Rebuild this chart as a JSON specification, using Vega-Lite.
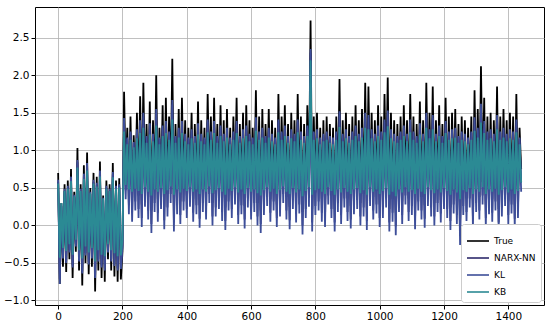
{
"$schema":"https://vega.github.io/schema/vega-lite/v6.json",
"width":509,"height":298,"autosize":"none",
"padding":{"left":35,"top":7,"right":6,"bottom":21},
"background":"white",
"data":{"values":[
{"x":0,"t":0.70,"n":0.58,"l":0.61,"b":0.56},
{"x":5,"t":-0.78,"n":-0.72,"l":-0.78,"b":-0.43},
{"x":10,"t":0.30,"n":0.26,"l":0.29,"b":0.30},
{"x":15,"t":-0.55,"n":-0.41,"l":-0.44,"b":-0.30},
{"x":20,"t":0.55,"n":0.46,"l":0.49,"b":0.46},
{"x":25,"t":-0.62,"n":-0.47,"l":-0.50,"b":-0.34},
{"x":30,"t":0.60,"n":0.50,"l":0.53,"b":0.49},
{"x":35,"t":-0.45,"n":-0.33,"l":-0.36,"b":-0.25},
{"x":40,"t":0.75,"n":0.62,"l":0.65,"b":0.59},
{"x":45,"t":-0.70,"n":-0.53,"l":-0.56,"b":-0.39},
{"x":50,"t":0.45,"n":0.38,"l":0.41,"b":0.39},
{"x":55,"t":-0.35,"n":-0.25,"l":-0.28,"b":-0.19},
{"x":60,"t":1.03,"n":0.84,"l":0.87,"b":0.77},
{"x":65,"t":-0.60,"n":-0.45,"l":-0.48,"b":-0.33},
{"x":70,"t":0.55,"n":0.46,"l":0.49,"b":0.46},
{"x":75,"t":-0.80,"n":-0.61,"l":-0.64,"b":-0.44},
{"x":80,"t":0.80,"n":0.66,"l":0.69,"b":0.62},
{"x":85,"t":-0.50,"n":-0.37,"l":-0.40,"b":-0.28},
{"x":90,"t":0.97,"n":0.80,"l":0.83,"b":0.73},
{"x":95,"t":-0.65,"n":-0.49,"l":-0.52,"b":-0.36},
{"x":100,"t":0.50,"n":0.42,"l":0.45,"b":0.43},
{"x":105,"t":-0.55,"n":-0.41,"l":-0.44,"b":-0.30},
{"x":110,"t":0.70,"n":0.58,"l":0.61,"b":0.56},
{"x":115,"t":-0.88,"n":-0.67,"l":-0.70,"b":-0.48},
{"x":120,"t":0.65,"n":0.54,"l":0.57,"b":0.52},
{"x":125,"t":-0.60,"n":-0.45,"l":-0.48,"b":-0.33},
{"x":130,"t":0.85,"n":0.70,"l":0.73,"b":0.65},
{"x":135,"t":-0.70,"n":-0.53,"l":-0.56,"b":-0.39},
{"x":140,"t":0.40,"n":0.34,"l":0.37,"b":0.36},
{"x":145,"t":-0.75,"n":-0.57,"l":-0.60,"b":-0.41},
{"x":150,"t":0.60,"n":0.50,"l":0.53,"b":0.49},
{"x":155,"t":-0.45,"n":-0.33,"l":-0.36,"b":-0.25},
{"x":160,"t":0.55,"n":0.46,"l":0.49,"b":0.46},
{"x":165,"t":-0.60,"n":-0.45,"l":-0.48,"b":-0.33},
{"x":170,"t":0.83,"n":0.68,"l":0.71,"b":0.64},
{"x":175,"t":-0.68,"n":-0.51,"l":-0.54,"b":-0.37},
{"x":180,"t":0.60,"n":0.50,"l":0.53,"b":0.49},
{"x":185,"t":-0.75,"n":-0.57,"l":-0.60,"b":-0.41},
{"x":190,"t":0.63,"n":0.52,"l":0.55,"b":0.51},
{"x":195,"t":-0.72,"n":-0.55,"l":-0.58,"b":-0.40},
{"x":200,"t":-0.35,"n":-0.27,"l":-0.30,"b":-0.19},
{"x":205,"t":1.78,"n":1.39,"l":1.43,"b":1.25},
{"x":210,"t":0.65,"n":0.47,"l":0.35,"b":0.54},
{"x":215,"t":1.30,"n":1.15,"l":1.17,"b":1.08},
{"x":220,"t":0.45,"n":0.27,"l":0.15,"b":0.48},
{"x":225,"t":1.45,"n":1.23,"l":1.25,"b":1.14},
{"x":230,"t":0.35,"n":0.17,"l":0.05,"b":0.45},
{"x":235,"t":1.20,"n":1.10,"l":1.11,"b":1.04},
{"x":240,"t":0.50,"n":0.32,"l":0.20,"b":0.49},
{"x":245,"t":1.50,"n":1.25,"l":1.28,"b":1.16},
{"x":250,"t":0.40,"n":0.22,"l":0.10,"b":0.46},
{"x":255,"t":1.72,"n":1.36,"l":1.40,"b":1.23},
{"x":260,"t":0.28,"n":0.10,"l":-0.02,"b":0.42},
{"x":265,"t":1.90,"n":1.45,"l":1.50,"b":1.30},
{"x":270,"t":0.55,"n":0.37,"l":0.25,"b":0.51},
{"x":275,"t":1.35,"n":1.18,"l":1.19,"b":1.10},
{"x":280,"t":0.38,"n":0.20,"l":0.08,"b":0.45},
{"x":285,"t":1.65,"n":1.33,"l":1.36,"b":1.21},
{"x":290,"t":0.20,"n":0.02,"l":-0.10,"b":0.40},
{"x":295,"t":1.40,"n":1.20,"l":1.22,"b":1.12},
{"x":300,"t":0.48,"n":0.30,"l":0.18,"b":0.48},
{"x":305,"t":2.00,"n":1.50,"l":1.55,"b":1.33},
{"x":310,"t":0.35,"n":0.17,"l":0.05,"b":0.45},
{"x":315,"t":1.30,"n":1.15,"l":1.17,"b":1.08},
{"x":320,"t":0.52,"n":0.34,"l":0.22,"b":0.50},
{"x":325,"t":1.60,"n":1.30,"l":1.33,"b":1.19},
{"x":330,"t":0.25,"n":0.07,"l":-0.05,"b":0.42},
{"x":335,"t":1.70,"n":1.35,"l":1.39,"b":1.23},
{"x":340,"t":0.42,"n":0.24,"l":0.12,"b":0.47},
{"x":345,"t":1.45,"n":1.23,"l":1.25,"b":1.14},
{"x":350,"t":0.60,"n":0.42,"l":0.30,"b":0.52},
{"x":355,"t":2.22,"n":1.61,"l":1.67,"b":1.41},
{"x":360,"t":0.22,"n":0.04,"l":-0.08,"b":0.41},
{"x":365,"t":1.35,"n":1.18,"l":1.19,"b":1.10},
{"x":370,"t":0.45,"n":0.27,"l":0.15,"b":0.48},
{"x":375,"t":1.55,"n":1.28,"l":1.30,"b":1.17},
{"x":380,"t":0.32,"n":0.14,"l":0.02,"b":0.44},
{"x":385,"t":1.70,"n":1.35,"l":1.39,"b":1.23},
{"x":390,"t":0.50,"n":0.32,"l":0.20,"b":0.49},
{"x":395,"t":1.40,"n":1.20,"l":1.22,"b":1.12},
{"x":400,"t":0.40,"n":0.22,"l":0.10,"b":0.46},
{"x":405,"t":1.30,"n":1.15,"l":1.17,"b":1.08},
{"x":410,"t":0.55,"n":0.37,"l":0.25,"b":0.51},
{"x":415,"t":1.50,"n":1.25,"l":1.28,"b":1.16},
{"x":420,"t":0.35,"n":0.17,"l":0.05,"b":0.45},
{"x":425,"t":1.35,"n":1.18,"l":1.19,"b":1.10},
{"x":430,"t":0.45,"n":0.27,"l":0.15,"b":0.48},
{"x":435,"t":1.65,"n":1.33,"l":1.36,"b":1.21},
{"x":440,"t":0.27,"n":0.09,"l":-0.03,"b":0.42},
{"x":445,"t":1.40,"n":1.20,"l":1.22,"b":1.12},
{"x":450,"t":0.48,"n":0.30,"l":0.18,"b":0.48},
{"x":455,"t":1.30,"n":1.15,"l":1.17,"b":1.08},
{"x":460,"t":0.38,"n":0.20,"l":0.08,"b":0.45},
{"x":465,"t":1.75,"n":1.38,"l":1.41,"b":1.24},
{"x":470,"t":0.60,"n":0.42,"l":0.30,"b":0.52},
{"x":475,"t":1.45,"n":1.23,"l":1.25,"b":1.14},
{"x":480,"t":0.30,"n":0.12,"l":0.00,"b":0.43},
{"x":485,"t":1.70,"n":1.35,"l":1.39,"b":1.23},
{"x":490,"t":0.42,"n":0.24,"l":0.12,"b":0.47},
{"x":495,"t":1.35,"n":1.18,"l":1.19,"b":1.10},
{"x":500,"t":0.52,"n":0.34,"l":0.22,"b":0.50},
{"x":505,"t":1.60,"n":1.30,"l":1.33,"b":1.19},
{"x":510,"t":0.36,"n":0.18,"l":0.06,"b":0.45},
{"x":515,"t":1.40,"n":1.20,"l":1.22,"b":1.12},
{"x":520,"t":0.24,"n":0.06,"l":-0.06,"b":0.41},
{"x":525,"t":1.55,"n":1.28,"l":1.30,"b":1.17},
{"x":530,"t":0.50,"n":0.32,"l":0.20,"b":0.49},
{"x":535,"t":1.30,"n":1.15,"l":1.17,"b":1.08},
{"x":540,"t":0.40,"n":0.22,"l":0.10,"b":0.46},
{"x":545,"t":1.45,"n":1.23,"l":1.25,"b":1.14},
{"x":550,"t":0.58,"n":0.40,"l":0.28,"b":0.51},
{"x":555,"t":1.70,"n":1.35,"l":1.39,"b":1.23},
{"x":560,"t":0.32,"n":0.14,"l":0.02,"b":0.44},
{"x":565,"t":1.35,"n":1.18,"l":1.19,"b":1.10},
{"x":570,"t":0.45,"n":0.27,"l":0.15,"b":0.48},
{"x":575,"t":1.50,"n":1.25,"l":1.28,"b":1.16},
{"x":580,"t":0.26,"n":0.08,"l":-0.04,"b":0.42},
{"x":585,"t":1.60,"n":1.30,"l":1.33,"b":1.19},
{"x":590,"t":0.54,"n":0.36,"l":0.24,"b":0.50},
{"x":595,"t":1.40,"n":1.20,"l":1.22,"b":1.12},
{"x":600,"t":0.38,"n":0.20,"l":0.08,"b":0.45},
{"x":605,"t":1.30,"n":1.15,"l":1.17,"b":1.08},
{"x":610,"t":0.48,"n":0.30,"l":0.18,"b":0.48},
{"x":615,"t":1.80,"n":1.40,"l":1.44,"b":1.26},
{"x":620,"t":0.30,"n":0.12,"l":0.00,"b":0.43},
{"x":625,"t":1.45,"n":1.23,"l":1.25,"b":1.14},
{"x":630,"t":0.20,"n":0.02,"l":-0.10,"b":0.40},
{"x":635,"t":1.55,"n":1.28,"l":1.30,"b":1.17},
{"x":640,"t":0.44,"n":0.26,"l":0.14,"b":0.47},
{"x":645,"t":1.35,"n":1.18,"l":1.19,"b":1.10},
{"x":650,"t":0.56,"n":0.38,"l":0.26,"b":0.51},
{"x":655,"t":1.55,"n":1.28,"l":1.30,"b":1.17},
{"x":660,"t":0.35,"n":0.17,"l":0.05,"b":0.45},
{"x":665,"t":1.40,"n":1.20,"l":1.22,"b":1.12},
{"x":670,"t":0.50,"n":0.32,"l":0.20,"b":0.49},
{"x":675,"t":1.30,"n":1.15,"l":1.17,"b":1.08},
{"x":680,"t":0.28,"n":0.10,"l":-0.02,"b":0.42},
{"x":685,"t":1.75,"n":1.38,"l":1.41,"b":1.24},
{"x":690,"t":0.42,"n":0.24,"l":0.12,"b":0.47},
{"x":695,"t":1.45,"n":1.23,"l":1.25,"b":1.14},
{"x":700,"t":0.60,"n":0.42,"l":0.30,"b":0.52},
{"x":705,"t":1.60,"n":1.30,"l":1.33,"b":1.19},
{"x":710,"t":0.38,"n":0.20,"l":0.08,"b":0.45},
{"x":715,"t":1.35,"n":1.18,"l":1.19,"b":1.10},
{"x":720,"t":0.25,"n":0.07,"l":-0.05,"b":0.42},
{"x":725,"t":1.50,"n":1.25,"l":1.28,"b":1.16},
{"x":730,"t":0.52,"n":0.34,"l":0.22,"b":0.50},
{"x":735,"t":1.40,"n":1.20,"l":1.22,"b":1.12},
{"x":740,"t":0.34,"n":0.16,"l":0.04,"b":0.44},
{"x":745,"t":1.75,"n":1.38,"l":1.41,"b":1.24},
{"x":750,"t":0.46,"n":0.28,"l":0.16,"b":0.48},
{"x":755,"t":1.45,"n":1.23,"l":1.25,"b":1.14},
{"x":760,"t":0.18,"n":0.00,"l":-0.12,"b":0.39},
{"x":765,"t":1.35,"n":1.18,"l":1.19,"b":1.10},
{"x":770,"t":0.40,"n":0.22,"l":0.10,"b":0.46},
{"x":775,"t":1.60,"n":1.30,"l":1.33,"b":1.19},
{"x":780,"t":0.55,"n":0.37,"l":0.25,"b":0.51},
{"x":785,"t":2.73,"n":2.30,"l":2.35,"b":2.20},
{"x":790,"t":0.22,"n":0.04,"l":-0.08,"b":0.41},
{"x":795,"t":1.45,"n":1.23,"l":1.25,"b":1.14},
{"x":800,"t":0.44,"n":0.26,"l":0.14,"b":0.47},
{"x":805,"t":1.50,"n":1.25,"l":1.28,"b":1.16},
{"x":810,"t":0.50,"n":0.32,"l":0.20,"b":0.49},
{"x":815,"t":1.30,"n":1.15,"l":1.17,"b":1.08},
{"x":820,"t":0.35,"n":0.17,"l":0.05,"b":0.45},
{"x":825,"t":1.40,"n":1.20,"l":1.22,"b":1.12},
{"x":830,"t":0.28,"n":0.10,"l":-0.02,"b":0.42},
{"x":835,"t":1.45,"n":1.23,"l":1.25,"b":1.14},
{"x":840,"t":0.58,"n":0.40,"l":0.28,"b":0.51},
{"x":845,"t":1.35,"n":1.18,"l":1.19,"b":1.10},
{"x":850,"t":0.40,"n":0.22,"l":0.10,"b":0.46},
{"x":855,"t":1.30,"n":1.15,"l":1.17,"b":1.08},
{"x":860,"t":0.22,"n":0.04,"l":-0.08,"b":0.41},
{"x":865,"t":1.45,"n":1.23,"l":1.25,"b":1.14},
{"x":870,"t":0.48,"n":0.30,"l":0.18,"b":0.48},
{"x":875,"t":1.95,"n":1.48,"l":1.52,"b":1.31},
{"x":880,"t":0.32,"n":0.14,"l":0.02,"b":0.44},
{"x":885,"t":1.40,"n":1.20,"l":1.22,"b":1.12},
{"x":890,"t":0.54,"n":0.36,"l":0.24,"b":0.50},
{"x":895,"t":1.50,"n":1.25,"l":1.28,"b":1.16},
{"x":900,"t":0.36,"n":0.18,"l":0.06,"b":0.45},
{"x":905,"t":1.35,"n":1.18,"l":1.19,"b":1.10},
{"x":910,"t":0.26,"n":0.08,"l":-0.04,"b":0.42},
{"x":915,"t":1.45,"n":1.23,"l":1.25,"b":1.14},
{"x":920,"t":0.45,"n":0.27,"l":0.15,"b":0.48},
{"x":925,"t":1.60,"n":1.30,"l":1.33,"b":1.19},
{"x":930,"t":0.52,"n":0.34,"l":0.22,"b":0.50},
{"x":935,"t":1.40,"n":1.20,"l":1.22,"b":1.12},
{"x":940,"t":0.30,"n":0.12,"l":0.00,"b":0.43},
{"x":945,"t":1.55,"n":1.28,"l":1.30,"b":1.17},
{"x":950,"t":0.42,"n":0.24,"l":0.12,"b":0.47},
{"x":955,"t":1.90,"n":1.45,"l":1.50,"b":1.30},
{"x":960,"t":0.24,"n":0.06,"l":-0.06,"b":0.41},
{"x":965,"t":1.85,"n":1.43,"l":1.47,"b":1.28},
{"x":970,"t":0.56,"n":0.38,"l":0.26,"b":0.51},
{"x":975,"t":1.50,"n":1.25,"l":1.28,"b":1.16},
{"x":980,"t":0.38,"n":0.20,"l":0.08,"b":0.45},
{"x":985,"t":1.40,"n":1.20,"l":1.22,"b":1.12},
{"x":990,"t":0.46,"n":0.28,"l":0.16,"b":0.48},
{"x":995,"t":1.60,"n":1.30,"l":1.33,"b":1.19},
{"x":1000,"t":0.28,"n":0.10,"l":-0.02,"b":0.42},
{"x":1005,"t":1.45,"n":1.23,"l":1.25,"b":1.14},
{"x":1010,"t":0.40,"n":0.22,"l":0.10,"b":0.46},
{"x":1015,"t":1.75,"n":1.38,"l":1.41,"b":1.24},
{"x":1020,"t":0.54,"n":0.36,"l":0.24,"b":0.50},
{"x":1025,"t":1.97,"n":1.49,"l":1.53,"b":1.32},
{"x":1030,"t":0.22,"n":0.04,"l":-0.08,"b":0.41},
{"x":1035,"t":1.50,"n":1.25,"l":1.28,"b":1.16},
{"x":1040,"t":0.35,"n":0.17,"l":0.05,"b":0.45},
{"x":1045,"t":1.40,"n":1.20,"l":1.22,"b":1.12},
{"x":1050,"t":0.17,"n":-0.01,"l":-0.13,"b":0.39},
{"x":1055,"t":1.35,"n":1.18,"l":1.19,"b":1.10},
{"x":1060,"t":0.48,"n":0.30,"l":0.18,"b":0.48},
{"x":1065,"t":1.45,"n":1.23,"l":1.25,"b":1.14},
{"x":1070,"t":0.32,"n":0.14,"l":0.02,"b":0.44},
{"x":1075,"t":1.60,"n":1.30,"l":1.33,"b":1.19},
{"x":1080,"t":0.58,"n":0.40,"l":0.28,"b":0.51},
{"x":1085,"t":1.40,"n":1.20,"l":1.22,"b":1.12},
{"x":1090,"t":0.36,"n":0.18,"l":0.06,"b":0.45},
{"x":1095,"t":1.75,"n":1.38,"l":1.41,"b":1.24},
{"x":1100,"t":0.44,"n":0.26,"l":0.14,"b":0.47},
{"x":1105,"t":1.45,"n":1.23,"l":1.25,"b":1.14},
{"x":1110,"t":0.25,"n":0.07,"l":-0.05,"b":0.42},
{"x":1115,"t":1.35,"n":1.18,"l":1.19,"b":1.10},
{"x":1120,"t":0.50,"n":0.32,"l":0.20,"b":0.49},
{"x":1125,"t":1.65,"n":1.33,"l":1.36,"b":1.21},
{"x":1130,"t":0.38,"n":0.20,"l":0.08,"b":0.45},
{"x":1135,"t":1.40,"n":1.20,"l":1.22,"b":1.12},
{"x":1140,"t":0.27,"n":0.09,"l":-0.03,"b":0.42},
{"x":1145,"t":1.90,"n":1.45,"l":1.50,"b":1.30},
{"x":1150,"t":0.56,"n":0.38,"l":0.26,"b":0.51},
{"x":1155,"t":1.50,"n":1.25,"l":1.28,"b":1.16},
{"x":1160,"t":0.42,"n":0.24,"l":0.12,"b":0.47},
{"x":1165,"t":1.85,"n":1.43,"l":1.47,"b":1.28},
{"x":1170,"t":0.30,"n":0.12,"l":0.00,"b":0.43},
{"x":1175,"t":1.40,"n":1.20,"l":1.22,"b":1.12},
{"x":1180,"t":0.48,"n":0.30,"l":0.18,"b":0.48},
{"x":1185,"t":1.60,"n":1.30,"l":1.33,"b":1.19},
{"x":1190,"t":0.34,"n":0.16,"l":0.04,"b":0.44},
{"x":1195,"t":1.35,"n":1.18,"l":1.19,"b":1.10},
{"x":1200,"t":0.52,"n":0.34,"l":0.22,"b":0.50},
{"x":1205,"t":1.70,"n":1.35,"l":1.39,"b":1.23},
{"x":1210,"t":0.40,"n":0.22,"l":0.10,"b":0.46},
{"x":1215,"t":1.45,"n":1.23,"l":1.25,"b":1.14},
{"x":1220,"t":0.24,"n":0.06,"l":-0.06,"b":0.41},
{"x":1225,"t":1.50,"n":1.25,"l":1.28,"b":1.16},
{"x":1230,"t":0.46,"n":0.28,"l":0.16,"b":0.48},
{"x":1235,"t":1.55,"n":1.28,"l":1.30,"b":1.17},
{"x":1240,"t":0.32,"n":0.14,"l":0.02,"b":0.44},
{"x":1245,"t":1.35,"n":1.18,"l":1.19,"b":1.10},
{"x":1250,"t":0.04,"n":-0.14,"l":-0.26,"b":0.35},
{"x":1255,"t":1.45,"n":1.23,"l":1.25,"b":1.14},
{"x":1260,"t":0.44,"n":0.26,"l":0.14,"b":0.47},
{"x":1265,"t":1.40,"n":1.20,"l":1.22,"b":1.12},
{"x":1270,"t":0.36,"n":0.18,"l":0.06,"b":0.45},
{"x":1275,"t":1.30,"n":1.15,"l":1.17,"b":1.08},
{"x":1280,"t":0.54,"n":0.36,"l":0.24,"b":0.50},
{"x":1285,"t":1.45,"n":1.23,"l":1.25,"b":1.14},
{"x":1290,"t":0.26,"n":0.08,"l":-0.04,"b":0.42},
{"x":1295,"t":1.80,"n":1.40,"l":1.44,"b":1.26},
{"x":1300,"t":0.48,"n":0.30,"l":0.18,"b":0.48},
{"x":1305,"t":1.55,"n":1.28,"l":1.30,"b":1.17},
{"x":1310,"t":0.38,"n":0.20,"l":0.08,"b":0.45},
{"x":1315,"t":2.12,"n":1.56,"l":1.62,"b":1.37},
{"x":1320,"t":0.58,"n":0.40,"l":0.28,"b":0.51},
{"x":1325,"t":1.70,"n":1.35,"l":1.39,"b":1.23},
{"x":1330,"t":0.28,"n":0.10,"l":-0.02,"b":0.42},
{"x":1335,"t":1.45,"n":1.23,"l":1.25,"b":1.14},
{"x":1340,"t":0.45,"n":0.27,"l":0.15,"b":0.48},
{"x":1345,"t":1.50,"n":1.25,"l":1.28,"b":1.16},
{"x":1350,"t":0.35,"n":0.17,"l":0.05,"b":0.45},
{"x":1355,"t":1.40,"n":1.20,"l":1.22,"b":1.12},
{"x":1360,"t":0.50,"n":0.32,"l":0.20,"b":0.49},
{"x":1365,"t":1.85,"n":1.43,"l":1.47,"b":1.28},
{"x":1370,"t":0.22,"n":0.04,"l":-0.08,"b":0.41},
{"x":1375,"t":1.45,"n":1.23,"l":1.25,"b":1.14},
{"x":1380,"t":0.42,"n":0.24,"l":0.12,"b":0.47},
{"x":1385,"t":1.55,"n":1.28,"l":1.30,"b":1.17},
{"x":1390,"t":0.56,"n":0.38,"l":0.26,"b":0.51},
{"x":1395,"t":1.40,"n":1.20,"l":1.22,"b":1.12},
{"x":1400,"t":0.32,"n":0.14,"l":0.02,"b":0.44},
{"x":1405,"t":1.50,"n":1.25,"l":1.28,"b":1.16},
{"x":1410,"t":0.46,"n":0.28,"l":0.16,"b":0.48},
{"x":1415,"t":1.45,"n":1.23,"l":1.25,"b":1.14},
{"x":1420,"t":0.27,"n":0.09,"l":-0.03,"b":0.42},
{"x":1425,"t":1.75,"n":1.38,"l":1.41,"b":1.24},
{"x":1430,"t":0.40,"n":0.22,"l":0.10,"b":0.46},
{"x":1435,"t":1.30,"n":1.15,"l":1.17,"b":1.08},
{"x":1440,"t":0.75,"n":0.57,"l":0.45,"b":0.57}
]},
"transform":[{"fold":["t","n","l","b"],"as":["s","y"]}],
"encoding":{
"x":{"field":"x","type":"quantitative","scale":{"domain":[-72,1511],"nice":false,"zero":false},"axis":{"values":[0,200,400,600,800,1000,1200,1400],"format":"d","title":null,"labelFlush":false}},
"y":{"field":"y","type":"quantitative","scale":{"domain":[-1.06,2.91],"nice":false,"zero":false},"axis":{"values":[-1,-0.5,0,0.5,1,1.5,2,2.5],"format":".1f","title":null}},
"color":{"field":"s","type":"nominal","scale":{"domain":["t","n","l","b"],"range":["#000000","#2d2a6b","#3d4e99","#2b8a94"]},
"legend":{"title":null,"orient":"bottom-right","offset":3,"padding":5,"fillColor":"white","strokeColor":"#cccccc","cornerRadius":3,"symbolType":"stroke","symbolStrokeWidth":1.6,"symbolSize":484,"labelFontSize":9,"labelFont":"DejaVu Sans","labelColor":"black","rowPadding":-8,"labelExpr":"{'t':'True','n':'NARX-NN','l':'KL','b':'KB'}[datum.value]"}}
},
"layer":[
{"transform":[{"filter":"datum.s==='t'"}],"mark":{"type":"line","strokeWidth":1.8}},
{"transform":[{"filter":"datum.s==='n'"}],"mark":{"type":"line","strokeWidth":1.8}},
{"transform":[{"filter":"datum.s==='l'"}],"mark":{"type":"line","strokeWidth":1.8}},
{"transform":[{"filter":"datum.s==='b'"}],"mark":{"type":"line","strokeWidth":1.8}}
],
"config":{
"view":{"stroke":"black","strokeWidth":1},
"axis":{"grid":true,"gridColor":"#b0b0b0","gridWidth":0.8,"domain":false,"tickColor":"black","tickSize":4,"labelColor":"black","labelFontSize":10.5,"labelFont":"DejaVu Sans","labelPadding":2}
}
}
